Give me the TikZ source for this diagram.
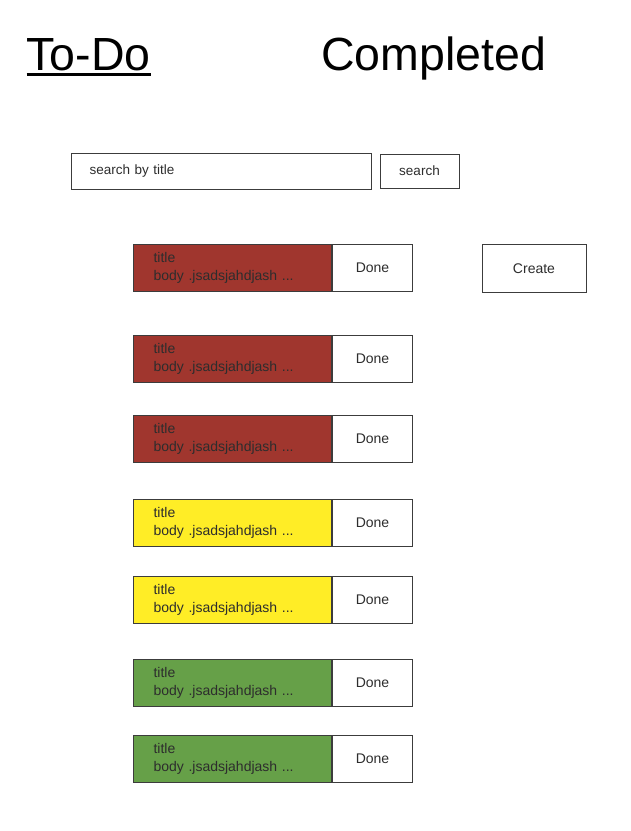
\documentclass[tikz,border=0pt]{standalone}
\usepackage{fontspec}
\setmainfont{Liberation Sans}
\usetikzlibrary{positioning}

\definecolor{cardred}{RGB}{160,54,46}
\definecolor{cardyellow}{RGB}{255,237,38}
\definecolor{cardgreen}{RGB}{102,160,72}
\definecolor{rand}{RGB}{60,60,60}
\definecolor{schrift}{RGB}{45,45,45}

\tikzset{
	kasten/.style={draw=rand, line width=1pt, rectangle, text=schrift,
	font=\fontsize{14}{17.5}\selectfont},
	karte/.style={kasten, anchor=north west, text width=158pt, inner xsep=20pt,
	inner ysep=0pt, minimum height=47pt, align=left},
	knopf/.style={kasten, fill=white, inner sep=0pt, align=center},
	kopf/.style={font=\fontsize{46.5}{50}\selectfont, text=black, inner sep=0pt,
	anchor=base west}
}

\begin{document}
\begin{tikzpicture}[x=1pt, y=-1pt]
	\useasboundingbox (0,0) rectangle (630,831);
	% Ueberschriften
	\node[kopf] (todo) at (26.5, 70) {To-Do};
	\node[kopf] (completed) at (321, 70) {Completed};
	\draw[line width=2.2pt, black] ([yshift=-4.5pt]todo.base west) --
	([yshift=-4.5pt]todo.base east);

	% Suche
	\node[kasten, anchor=north west, text width=264pt, inner xsep=18pt,
	inner ysep=0pt, minimum height=36pt, align=left,
	font=\fontsize{13.5}{16}\selectfont] (suchfeld) at (71, 153)
	{search by title};
	\node[knopf, minimum width=79pt, minimum height=34pt,
	font=\fontsize{13.5}{16}\selectfont] (suchen) at (419.5, 171) {search};

	% Neue Aufgabe
	\node[knopf, minimum width=104pt, minimum height=48pt] (create) at (534, 268.5)
	{Create};

	% Aufgaben
	\foreach \y/\farbe [count=\i] in {244/cardred, 335/cardred, 415/cardred,
	499/cardyellow, 576/cardyellow, 659/cardgreen, 735/cardgreen}
	{
		\node[karte, fill=\farbe] (karte\i) at (133, \y)
		{title\\body .jsadsjahdjash ...};
		\node[knopf, anchor=west, minimum width=80pt, minimum height=47pt]
		(done\i) at (karte\i.east) {Done};
	}
\end{tikzpicture}
\end{document}
